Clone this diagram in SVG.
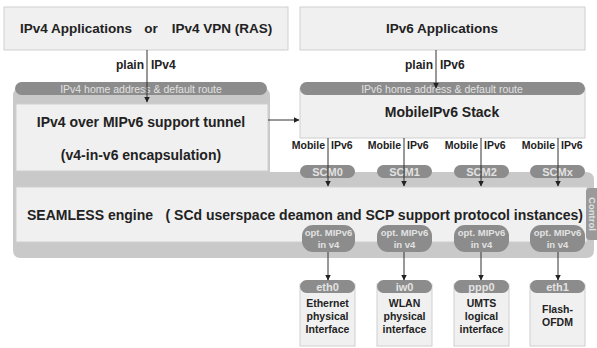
<svg xmlns="http://www.w3.org/2000/svg" width="597" height="348" viewBox="0 0 597 348">
<defs>
<marker id="ah" viewBox="0 0 6 6" refX="5.5" refY="3" markerWidth="6" markerHeight="6" orient="auto" markerUnits="userSpaceOnUse">
<path d="M0,0 L6,3 L0,6 Z" fill="#222"/>
</marker>
<style>
.box{fill:#f0f0f0;stroke:#cfcfcf;stroke-width:1}
.pill{fill:#8c8c8c}
.ptxt{font-family:"Liberation Sans",Arial,sans-serif;font-size:10.5px;fill:#e2e2e2;text-anchor:middle}
.ptb{font-family:"Liberation Sans",Arial,sans-serif;font-size:11px;font-weight:bold;fill:#e2e2e2;text-anchor:middle}
.h{font-family:"Liberation Sans",Arial,sans-serif;font-size:13.5px;font-weight:bold;fill:#222;text-anchor:middle}
.h2{font-family:"Liberation Sans",Arial,sans-serif;font-size:14px;font-weight:bold;fill:#222}
.lab{font-family:"Liberation Sans",Arial,sans-serif;font-size:12px;font-weight:bold;fill:#222}
.sm{font-family:"Liberation Sans",Arial,sans-serif;font-size:10.5px;font-weight:bold;fill:#222}
.ifc{font-family:"Liberation Sans",Arial,sans-serif;font-size:10.5px;font-weight:bold;fill:#222;text-anchor:middle}
.opt{font-family:"Liberation Sans",Arial,sans-serif;font-size:9.5px;font-weight:bold;fill:#e2e2e2;text-anchor:middle}
.ln{stroke:#333;stroke-width:1;fill:none;marker-end:url(#ah)}
</style>
</defs>

<!-- big gray background region -->
<path id="bg" d="M21,88 H262 Q270,88 270,96 V172 H586 Q594,172 594,180 V250 Q594,258 586,258 H21 Q13,258 13,250 V96 Q13,88 21,88 Z" fill="#c9c9c9"/>

<g id="ipv4apps">
<rect class="box" x="4" y="7" width="284" height="43"/>
<text class="h" x="76" y="33">IPv4 Applications</text>
<text class="h" x="151" y="33">or</text>
<text class="h" x="222" y="33">IPv4 VPN (RAS)</text>
</g>

<g id="ipv6apps">
<rect class="box" x="300" y="7" width="285" height="43"/>
<text class="h" x="442" y="33">IPv6 Applications</text>
</g>

<g id="tunnel">
<rect class="box" x="16" y="104" width="252" height="67"/>
<text class="h2" x="141" y="127" text-anchor="middle">IPv4 over MIPv6 support tunnel</text>
<text class="h2" x="141" y="160" text-anchor="middle">(v4-in-v6 encapsulation)</text>
</g>

<g id="ipv4route">
<rect class="pill" x="15" y="82" width="252" height="13" rx="6.5"/>
<text class="ptxt" x="141" y="92.5">IPv4 home address &amp; default route</text>
</g>

<g id="mipv6stack">
<rect class="box" x="300" y="88" width="285" height="50"/>
<rect class="pill" x="300" y="82" width="285" height="13" rx="6.5"/>
<text class="ptxt" x="442" y="92.5">IPv6 home address &amp; default route</text>
<text class="h2" x="442" y="117" text-anchor="middle">MobileIPv6 Stack</text>
</g>

<g id="seamless">
<rect class="box" x="16" y="187" width="571" height="55"/>
<text class="h2" x="27" y="220" text-anchor="start">SEAMLESS engine</text>
<text class="h2" x="583" y="220" text-anchor="end">( SCd userspace deamon and SCP support protocol instances)</text>
</g>

<g id="control">
<rect x="586" y="188" width="14" height="52" rx="4" fill="#9a9a9a"/>
<text transform="translate(589,214) rotate(90)" font-family="Liberation Sans, Arial, sans-serif" font-size="9.5" font-weight="bold" fill="#e2e2e2" text-anchor="middle">Control</text>
</g>

<g id="scm">
<rect class="pill" x="300" y="165" width="55" height="13" rx="6.5"/>
<text class="ptb" x="327.5" y="175.5">SCM0</text>
<rect class="pill" x="377" y="165" width="55" height="13" rx="6.5"/>
<text class="ptb" x="404.5" y="175.5">SCM1</text>
<rect class="pill" x="454" y="165" width="55" height="13" rx="6.5"/>
<text class="ptb" x="481.5" y="175.5">SCM2</text>
<rect class="pill" x="530" y="165" width="55" height="13" rx="6.5"/>
<text class="ptb" x="557.5" y="175.5">SCMx</text>
</g>

<g id="optpills">
<rect class="pill" x="302" y="225" width="53" height="27" rx="11"/>
<rect class="pill" x="377" y="225" width="55" height="27" rx="11"/>
<rect class="pill" x="454" y="225" width="55" height="27" rx="11"/>
<rect class="pill" x="530" y="225" width="55" height="27" rx="11"/>
<g xml:space="preserve">
<text class="opt" x="328.5" y="236">opt.  MIPv6</text><text class="opt" x="328.5" y="247.5">in v4</text>
<text class="opt" x="404.5" y="236">opt.  MIPv6</text><text class="opt" x="404.5" y="247.5">in v4</text>
<text class="opt" x="481.5" y="236">opt.  MIPv6</text><text class="opt" x="481.5" y="247.5">in v4</text>
<text class="opt" x="557.5" y="236">opt.  MIPv6</text><text class="opt" x="557.5" y="247.5">in v4</text>
</g>
</g>

<g id="eth0">
<rect class="box" x="300" y="284" width="55" height="62"/>
<rect class="pill" x="300" y="280" width="55" height="13" rx="6.5"/>
<text class="ptb" x="327.5" y="290.5">eth0</text>
<text class="ifc" x="327.5" y="307">Ethernet</text>
<text class="ifc" x="327.5" y="320">physical</text>
<text class="ifc" x="327.5" y="333">Interface</text>
</g>
<g id="iw0">
<rect class="box" x="377" y="284" width="55" height="62"/>
<rect class="pill" x="377" y="280" width="55" height="13" rx="6.5"/>
<text class="ptb" x="404.5" y="290.5">iw0</text>
<text class="ifc" x="404.5" y="307">WLAN</text>
<text class="ifc" x="404.5" y="320">physical</text>
<text class="ifc" x="404.5" y="333">interface</text>
</g>
<g id="ppp0">
<rect class="box" x="454" y="284" width="55" height="62"/>
<rect class="pill" x="454" y="280" width="55" height="13" rx="6.5"/>
<text class="ptb" x="481.5" y="290.5">ppp0</text>
<text class="ifc" x="481.5" y="307">UMTS</text>
<text class="ifc" x="481.5" y="320">logical</text>
<text class="ifc" x="481.5" y="333">interface</text>
</g>
<g id="eth1">
<rect class="box" x="530" y="284" width="55" height="62"/>
<rect class="pill" x="530" y="280" width="55" height="13" rx="6.5"/>
<text class="ptb" x="557.5" y="290.5">eth1</text>
<text class="ifc" x="557.5" y="313">Flash-</text>
<text class="ifc" x="557.5" y="326">OFDM</text>
</g>

<g id="connectors">
<line class="ln" x1="147" y1="50" x2="147" y2="102"/>
<line class="ln" x1="436" y1="50" x2="436" y2="88"/>
<line class="ln" x1="268" y1="120" x2="299" y2="120"/>
<line class="ln" x1="328" y1="138" x2="328" y2="186"/>
<line class="ln" x1="404" y1="138" x2="404" y2="186"/>
<line class="ln" x1="481" y1="138" x2="481" y2="186"/>
<line class="ln" x1="558" y1="138" x2="558" y2="186"/>
<line class="ln" x1="328" y1="252" x2="328" y2="280"/>
<line class="ln" x1="404" y1="252" x2="404" y2="280"/>
<line class="ln" x1="481" y1="252" x2="481" y2="280"/>
<line class="ln" x1="558" y1="252" x2="558" y2="280"/>
<text class="lab" x="144" y="69" text-anchor="end">plain</text>
<text class="lab" x="151" y="69">IPv4</text>
<text class="lab" x="433" y="69" text-anchor="end">plain</text>
<text class="lab" x="440" y="69">IPv6</text>
<text class="sm" x="325" y="149" text-anchor="end">Mobile</text>
<text class="sm" x="331" y="149">IPv6</text>
<text class="sm" x="401" y="149" text-anchor="end">Mobile</text>
<text class="sm" x="407" y="149">IPv6</text>
<text class="sm" x="478" y="149" text-anchor="end">Mobile</text>
<text class="sm" x="484" y="149">IPv6</text>
<text class="sm" x="555" y="149" text-anchor="end">Mobile</text>
<text class="sm" x="561" y="149">IPv6</text>
</g>
</svg>
